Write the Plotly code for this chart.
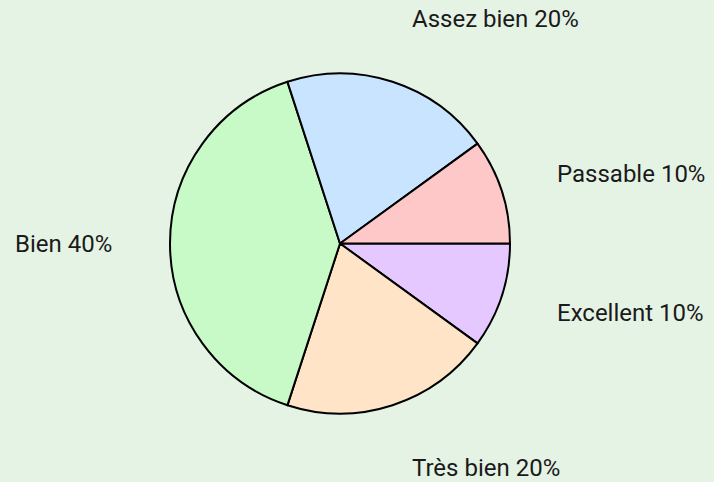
import math
import plotly.graph_objects as go

labels = ["Passable", "Assez bien", "Bien", "Très bien", "Excellent"]
values = [10, 20, 40, 20, 10]
colors = ["#ffc8c8", "#c8e4ff", "#c8fac8", "#ffe4c8", "#e4c8ff"]

W, H = 714, 482
cx, cy, r = 340, 243.5, 170  # pixel geometry of the pie
label_dist = 1.33
half_text = 9  # pushes top/bottom labels away from the pie

# plotly draws clockwise from the rotation angle; feed reversed order so the
# visual order is counterclockwise starting at 3 o'clock
fig = go.Figure(go.Pie(
    labels=labels[::-1], values=values[::-1], sort=False, direction="clockwise",
    rotation=90, textinfo="none", hoverinfo="label+percent",
    marker=dict(colors=colors[::-1], line=dict(color="black", width=2)),
    domain=dict(x=[(cx - r) / W, (cx + r) / W], y=[1 - (cy + r) / H, 1 - (cy - r) / H]),
    showlegend=False,
))

total = sum(values)
cum = 0
annotations = []
for lab, v in zip(labels, values):
    mid = (cum + v / 2) / total * 2 * math.pi
    cum += v
    c, s = math.cos(mid), math.sin(mid)
    px = cx + label_dist * r * c
    py = cy - label_dist * r * s
    if abs(s) > 0.5:
        py -= math.copysign(half_text, s)
    xanchor = "left" if c > 0.05 else ("right" if c < -0.05 else "center")
    annotations.append(dict(
        x=px / W, y=1 - py / H, xref="paper", yref="paper",
        text=f"{lab} {round(v / total * 100)}%", showarrow=False,
        xanchor=xanchor, yanchor="middle",
        font=dict(family="Roboto", size=24, color="#1a1a1a"),
    ))

fig.update_layout(
    width=W, height=H, margin=dict(l=0, r=0, t=0, b=0),
    paper_bgcolor="#e5f3e5", plot_bgcolor="#e5f3e5",
    annotations=annotations,
)
fig.write_html("out.html", config={"displayModeBar": False},
               post_script="document.body.style.margin='0';")
